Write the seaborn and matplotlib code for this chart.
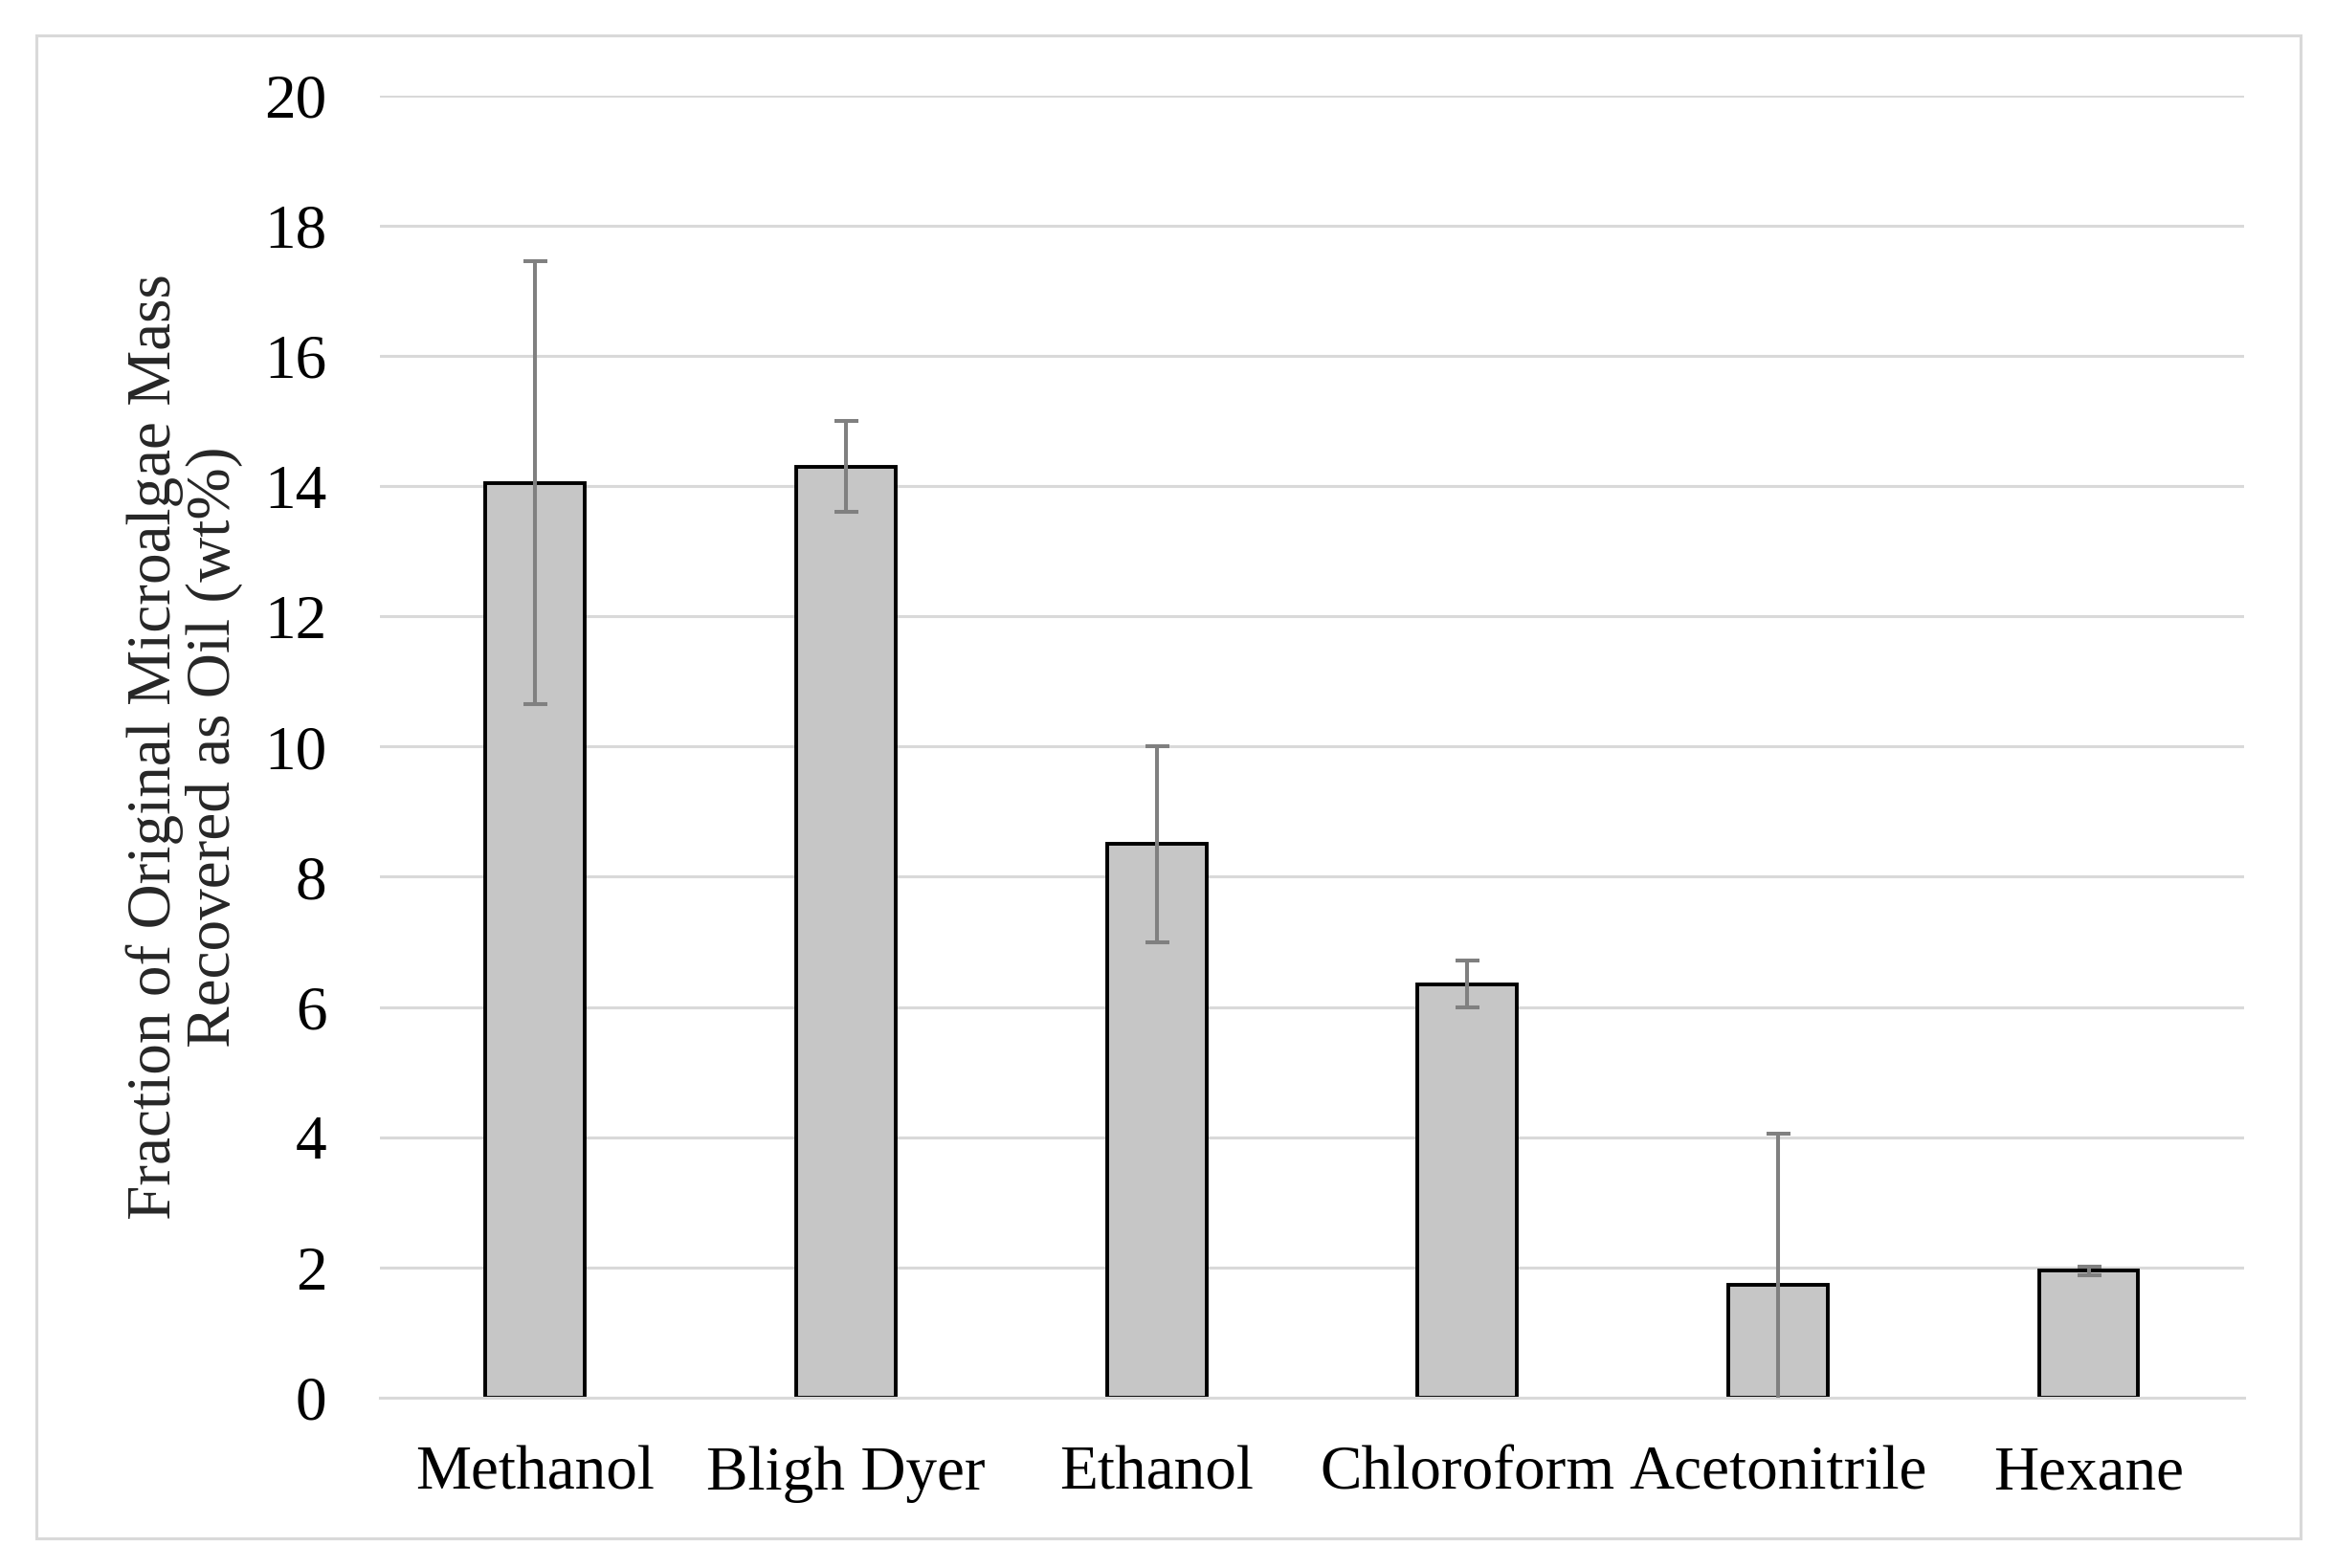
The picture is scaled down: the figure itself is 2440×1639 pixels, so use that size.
import matplotlib
matplotlib.use("Agg")
import matplotlib.pyplot as plt
import seaborn as sns
import pandas as pd
from matplotlib.patches import Rectangle

categories = ["Methanol", "Bligh Dyer", "Ethanol", "Chloroform", "Acetonitrile", "Hexane"]
values = [14.05, 14.3, 8.5, 6.35, 1.73, 1.95]
errors = [3.4, 0.7, 1.5, 0.36, 2.33, 0.07]
yticks = [0, 2, 4, 6, 8, 10, 12, 14, 16, 18, 20]

sns.set_theme(style="white")
plt.rcParams['font.family'] = ['Liberation Serif', 'DejaVu Serif']

df = pd.DataFrame({"Solvent": categories, "Value": values})

fig = plt.figure(figsize=(24.4, 16.39), dpi=100)
ax = fig.add_axes([0.1627, 0.1086, 0.961 - 0.1627, 0.9392 - 0.1086])

sns.barplot(data=df, x="Solvent", y="Value", ax=ax, color="#c6c6c6",
            width=0.32, edgecolor="black", linewidth=2.8, saturation=1, zorder=2)
ax.errorbar(range(len(categories)), values, yerr=errors, fmt="none",
            ecolor="#808080", elinewidth=2.9, capsize=9, capthick=2.9, zorder=3)

ax.set_ylim(0, 20)
ax.set_xlim(-0.5, len(categories) - 0.5)
ax.set_yticks(yticks)
ax.set_yticklabels([str(t) for t in yticks])
ax.yaxis.grid(True, color="#d9d9d9", linewidth=2.2, zorder=0)
ax.set_axisbelow(True)
for s in ["top", "right", "left"]:
    ax.spines[s].set_visible(False)
ax.spines["bottom"].set_color("#d9d9d9")
ax.spines["bottom"].set_linewidth(2.2)
ax.tick_params(axis="both", length=0, labelsize=47, colors="black")
ax.tick_params(axis="y", pad=40)
ax.tick_params(axis="x", pad=36)
ax.set_xlabel("")
ax.set_ylabel("Fraction of Original Microalgae Mass\nRecovered as Oil (wt%)",
              fontsize=47, labelpad=16, linespacing=1.05)

fig.patches.append(Rectangle((38 / 2440, 1 - 1608 / 1639), (2404 - 38) / 2440, (1608 - 37) / 1639,
                             transform=fig.transFigure, fill=False, edgecolor="#d9d9d9",
                             linewidth=2.2, zorder=0))

fig.savefig("out.png", dpi=100, facecolor="white")
